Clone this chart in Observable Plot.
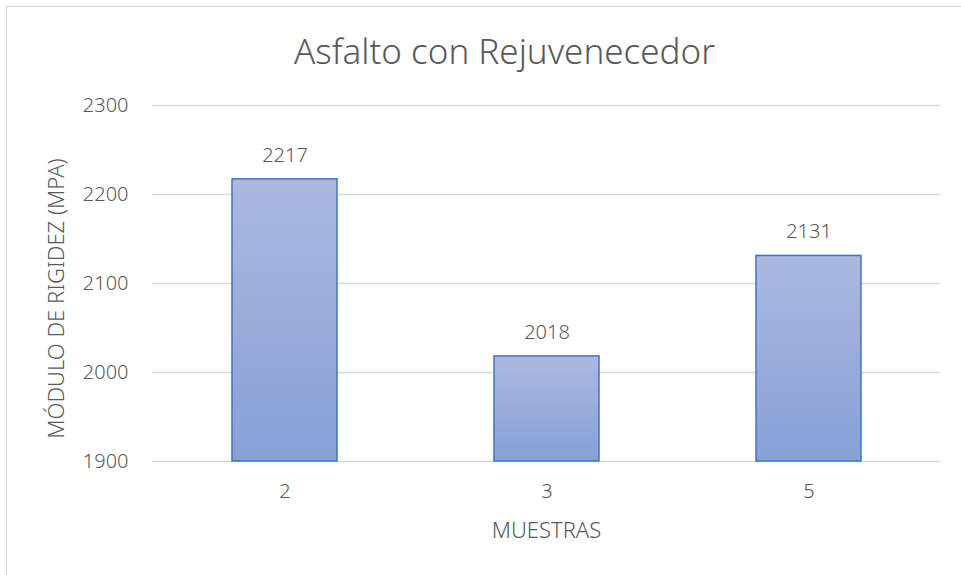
<!DOCTYPE html>
<html>
<head>
<meta charset="utf-8">
<script src="https://cdn.jsdelivr.net/npm/d3@7"></script>
<script src="https://cdn.jsdelivr.net/npm/@observablehq/plot@0.6"></script>
<style>
  html, body { margin: 0; padding: 0; background: #fff; }
  #chart { width: 961px; height: 575px; overflow: hidden; }
</style>
</head>
<body>
<div id="chart"></div>
<script>
const title = "Asfalto con Rejuvenecedor";
const categories = ["2", "3", "5"];
const values = [2217, 2018, 2131];
const yTicks = [1900, 2000, 2100, 2200, 2300];
const xLabel = "MUESTRAS";
const yLabel = "MÓDULO DE RIGIDEZ (MPA)";

const data = categories.map((c, i) => ({ muestra: c, valor: values[i] }));
const FONT = "'Noto Sans', 'Open Sans', sans-serif";
const TXT = "#595959";

const defs = () => {
  const d = d3.create("svg:defs");
  const g = d.append("linearGradient").attr("id", "barGrad")
    .attr("x1", 0).attr("y1", 0).attr("x2", 0).attr("y2", 1);
  g.append("stop").attr("offset", "0%").attr("stop-color", "#AAB9E1");
  g.append("stop").attr("offset", "100%").attr("stop-color", "#87A0D7");
  return d.node();
};

const chart = Plot.plot({
  width: 961,
  height: 575,
  marginLeft: 152,
  marginRight: 21,
  marginTop: 105,
  marginBottom: 114,
  style: { fontFamily: FONT, fontWeight: 300, color: TXT, background: "#fff", overflow: "visible" },
  x: { type: "band", domain: categories, paddingInner: 0.6, paddingOuter: 0.3, label: null },
  y: { domain: [1900, 2300], label: null },
  marks: [
    defs,
    Plot.gridY(yTicks, { stroke: "#D9D9D9", strokeOpacity: 1, strokeWidth: 1.3 }),
    Plot.barY(data, { x: "muestra", y1: 1900, y2: "valor", fill: "url(#barGrad)", stroke: "#4472C4", strokeWidth: 1.5 }),
    Plot.text(data, { x: "muestra", y: "valor", text: d => String(d.valor), dy: -24, fill: TXT, fontSize: 20, lineAnchor: "middle" }),
    Plot.axisY(yTicks, { tickSize: 0, tickPadding: 24, fontSize: 20, fill: TXT, label: null, tickFormat: d => String(d) }),
    Plot.axisX({ tickSize: 0, tickPadding: 22, fontSize: 20, fill: TXT, label: null }),
    Plot.text([yLabel], { frameAnchor: "left", dx: -96, dy: 15, rotate: -90, fontSize: 22, fill: TXT, textAnchor: "middle", lineAnchor: "middle" }),
    Plot.text([xLabel], { frameAnchor: "bottom", dy: 69, fontSize: 22, fill: TXT, lineAnchor: "middle" }),
    Plot.text([title], { frameAnchor: "top-left", dx: 352, dy: -53, fontSize: 35, fill: TXT, textAnchor: "middle", lineAnchor: "middle" })
  ]
});

d3.select(chart).append("rect")
  .attr("x", 6.5).attr("y", 6.5).attr("width", 1000).attr("height", 1000)
  .attr("fill", "none").attr("stroke", "#D9D9D9").attr("stroke-width", 1.3);

document.getElementById("chart").appendChild(chart);
</script>
</body>
</html>
